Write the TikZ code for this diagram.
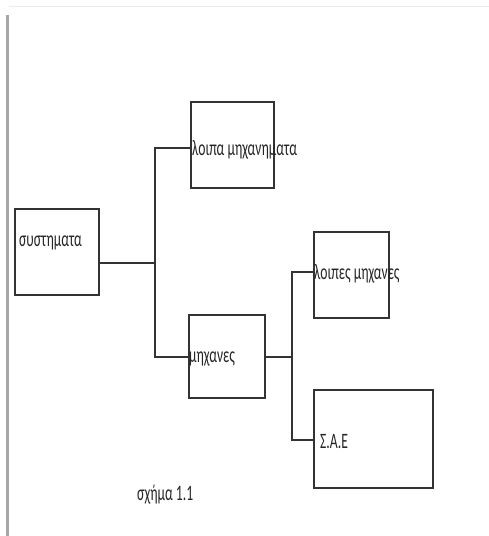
\documentclass[tikz,border=0pt]{standalone}
\usepackage{fontspec}
\setmainfont{Carlito}
\newfontfamily\narrowfont[FakeStretch=0.62]{Carlito}
\tikzset{
  box/.style={draw=black!80, line width=1.3pt, rectangle, inner sep=0pt},
  txt/.style={anchor=west, inner sep=1pt, text=black!85, font=\narrowfont\fontsize{22}{24}\selectfont},
  conn/.style={draw=black!80, line width=2pt}
}
\begin{document}
\begin{tikzpicture}[x=1pt,y=-1pt]
\useasboundingbox (0,0) rectangle (489,536);
% page edge
\draw[black!8, line width=0.8pt] (9,6) -- (489,6);
\draw[black!35, line width=3pt] (7,15) -- (7,536);

% boxes
\node[box, minimum width=84, minimum height=86] (sys) at (57,252) {};
\node[box, minimum width=83, minimum height=86] (lm) at (232.5,145) {};
\node[box, minimum width=76, minimum height=83] (m) at (227,356.5) {};
\node[box, minimum width=75, minimum height=86] (lmx) at (351.5,275) {};
\node[box, minimum width=119, minimum height=98] (sae) at (373.5,439) {};

% labels
\node[txt] (systxt) at (18,243) {συστηματα};
\node[txt] (lmtxt) at (191,150) {λοιπα μηχανηματα};
\node[txt] (mtxt) at (188,359) {μηχανες};
\node[txt] (lmxtxt) at (313,274) {λοιπες μηχανες};
\node[txt] (saetxt) at (319,442) {Σ.Α.Ε};
\node[txt] (cap) at (136,495) {σχήμα 1.1};

% connectors
\coordinate (j1) at (155,263);
\coordinate (j2) at (292,357);
\draw[conn] (sys.east |- j1) -- (j1);
\draw[conn] (lm.west |- 0,148) -| (j1) |- (m.west |- j2);
\draw[conn] (m.east |- j2) -- (j2);
\draw[conn] (lmx.west |- 0,272) -| (j2) |- (sae.west |- 0,440);
\end{tikzpicture}
\end{document}
